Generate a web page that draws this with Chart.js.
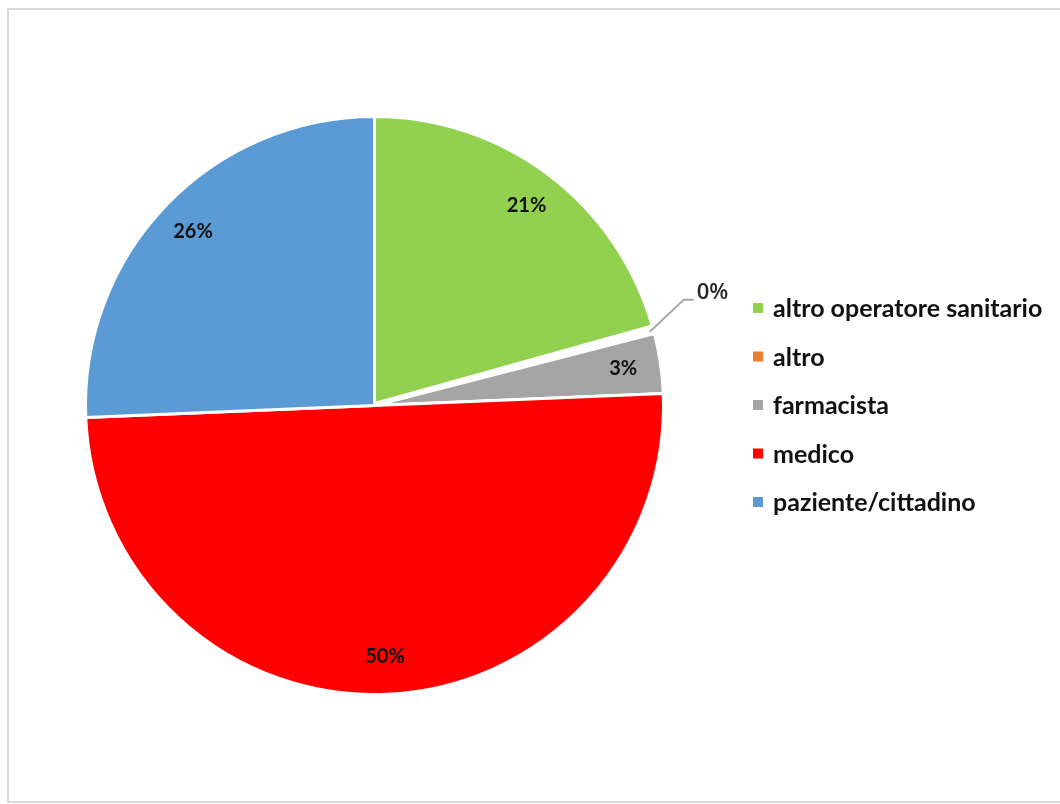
<!DOCTYPE html>
<html>
<head>
<meta charset="utf-8">
<script src="https://cdn.jsdelivr.net/npm/chart.js@4.4.1/dist/chart.umd.min.js"></script>
<style>
  html, body { margin: 0; padding: 0; background: #fff; }
  #wrap { position: relative; width: 1060px; height: 804px; overflow: hidden; }
  #frame { position: absolute; left: 7px; top: 8px; width: 1080px; height: 795px; border: 2px solid #d9d9d9; box-sizing: border-box; }
  canvas { position: absolute; left: 0; top: 0; }
</style>
</head>
<body>
<div id="wrap">
  <div id="frame"></div>
  <canvas id="c" width="1060" height="804"></canvas>
</div>
<script>
// Respondent categories and counts
const categories = ['altro operatore sanitario', 'altro', 'farmacista', 'medico', 'paziente/cittadino'];
const counts = [62, 1, 10, 150, 77];
const sliceColors = ['#92D050', '#ED7D31', '#A5A5A5', '#FF0000', '#5B9BD5'];

const total = counts.reduce((a, b) => a + b, 0);
const pctText = v => Math.round(v / total * 100) + '%';

// Percentage labels inside slices; tiny slices get a callout with a leader line
const sliceLabels = {
  id: 'sliceLabels',
  afterDatasetsDraw(chart) {
    const ctx = chart.ctx;
    const arcs = chart.getDatasetMeta(0).data;
    ctx.save();
    arcs.forEach((arc, i) => {
      const p = arc.getProps(['x', 'y', 'startAngle', 'endAngle', 'outerRadius'], true);
      const mid = (p.startAngle + p.endAngle) / 2;
      const share = counts[i] / total;
      if (share < 0.01) {
        const sx = p.x + Math.cos(mid) * (p.outerRadius - 4);
        const sy = p.y + Math.sin(mid) * (p.outerRadius - 4);
        const ex = sx + 34, ey = sy - 32;
        ctx.strokeStyle = '#a6a6a6';
        ctx.lineWidth = 1.8;
        ctx.beginPath();
        ctx.moveTo(sx, sy);
        ctx.lineTo(ex, ey);
        ctx.lineTo(ex + 10, ey);
        ctx.stroke();
        ctx.fillStyle = '#262626';
        ctx.font = '600 22px "Open Sans", sans-serif';
        ctx.textAlign = 'left';
        ctx.textBaseline = 'middle';
        ctx.fillText(pctText(counts[i]), ex + 13, ey - 7);
      } else {
        const r = p.outerRadius * 0.87;
        ctx.fillStyle = '#111';
        ctx.font = 'bold 20px Lato, sans-serif';
        ctx.textAlign = 'center';
        ctx.textBaseline = 'middle';
        ctx.fillText(pctText(counts[i]), p.x + Math.cos(mid) * r, p.y + Math.sin(mid) * r);
      }
    });
    ctx.restore();
  }
};

// Legend to the right of the pie
const sideLegend = {
  id: 'sideLegend',
  afterDraw(chart) {
    const ctx = chart.ctx;
    const x0 = 753, y0 = 308, step = 48.5;
    ctx.save();
    ctx.font = 'bold 25px Lato, sans-serif';
    ctx.textAlign = 'left';
    ctx.textBaseline = 'middle';
    chart.data.labels.forEach((lab, i) => {
      const y = y0 + i * step;
      ctx.fillStyle = sliceColors[i];
      ctx.fillRect(x0, y - 5, 10, 10);
      ctx.fillStyle = '#111';
      ctx.fillText(lab, x0 + 20, y + 1);
    });
    ctx.restore();
  }
};

new Chart(document.getElementById('c'), {
  type: 'pie',
  data: {
    labels: categories,
    datasets: [{
      data: counts,
      backgroundColor: sliceColors,
      borderColor: '#ffffff',
      borderWidth: [3, 7, 3, 3, 3]
    }]
  },
  options: {
    responsive: false,
    animation: false,
    layout: { padding: { top: 113, bottom: 106, left: 82, right: 393 } },
    plugins: {
      legend: { display: false },
      tooltip: { enabled: false }
    }
  },
  plugins: [sliceLabels, sideLegend]
});
</script>
</body>
</html>
